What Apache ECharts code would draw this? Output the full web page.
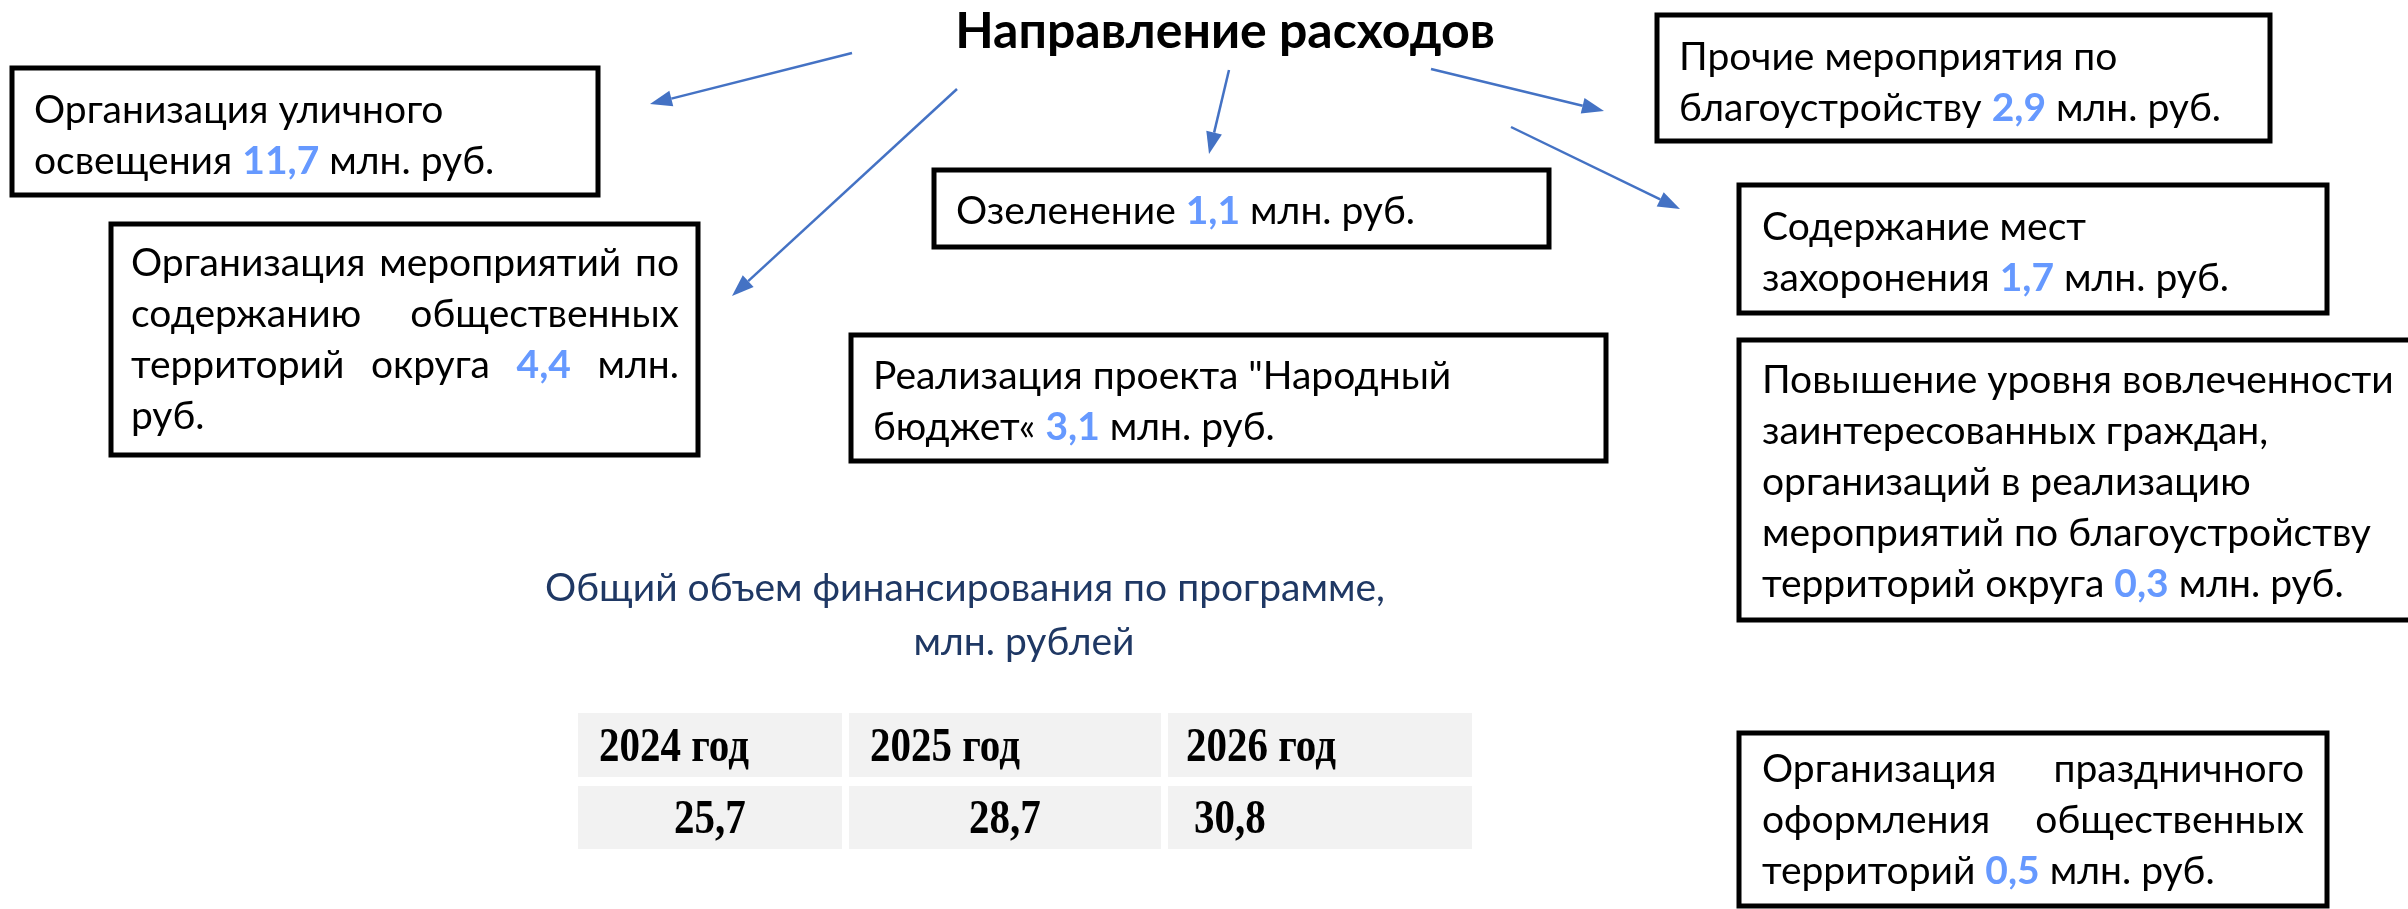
<!DOCTYPE html>
<html>
<head>
<meta charset="utf-8">
<script src="https://cdn.jsdelivr.net/npm/echarts@6/dist/echarts.min.js"></script>
<style>
  html, body { margin: 0; padding: 0; background: #fff; }
  #box-view { width: 2408px; height: 909px; }
</style>
</head>
<body>
<div id="box-view"></div>
<script>
// данные
const title = 'Направление расходов';
const itemTexts = [
  'Организация уличного\nосвещения {v} млн. руб.',
  'Организация мероприятий по\nсодержанию общественных\nтерриторий округа {v} млн.\nруб.',
  'Озеленение {v} млн. руб.',
  'Реализация проекта "Народный\nбюджет« {v} млн. руб.',
  'Прочие мероприятия по\nблагоустройству {v} млн. руб.',
  'Содержание мест\nзахоронения {v} млн. руб.',
  'Повышение уровня вовлеченности\nзаинтересованных граждан,\nорганизаций в реализацию\nмероприятий по благоустройству\nтерриторий округа {v} млн. руб.',
  'Организация праздничного\nоформления общественных\nтерриторий {v} млн. руб.'
];
const itemAmounts = [11.7, 4.4, 1.1, 3.1, 2.9, 1.7, 0.3, 0.5];
const subtitleLines = ['Общий объем финансирования по программе,', 'млн. рублей'];
const years = ['2024 год', '2025 год', '2026 год'];
const totals = [25.7, 28.7, 30.8];

// раскладка
const boxes = [
  {x: 12, y: 68, w: 586, h: 127, tx: 34, ty: 110},
  {x: 111, y: 224, w: 587, h: 231, tx: 131, ty: 263, right: 679},
  {x: 934, y: 170, w: 615, h: 77, tx: 956, ty: 211},
  {x: 851, y: 335, w: 755, h: 126, tx: 873, ty: 376},
  {x: 1657, y: 15, w: 613, h: 126, tx: 1679, ty: 57},
  {x: 1739, y: 185, w: 588, h: 128, tx: 1762, ty: 227},
  {x: 1739, y: 340, w: 700, h: 280, tx: 1762, ty: 380},
  {x: 1739, y: 733, w: 588, h: 173, tx: 1762, ty: 769, right: 2304}
];
const lineGap = 51;
const arrows = [
  [852, 53, 650, 104],
  [957, 89, 732, 296],
  [1229, 70, 1209, 154],
  [1431, 69, 1604, 111],
  [1511, 127, 1680, 209]
];
const tableCols = [[578, 267], [849, 315], [1168, 307]];
const tableRows = [[713, 64], [786, 63]];
const headX = [599, 870, 1186];
const valX = [674, 969, 1194];

const FONT = 'Lato, "Noto Sans", sans-serif';
const SIZE = 39;
const NUM_COLOR = '#6699ff';

const ctx = document.createElement('canvas').getContext('2d');
function tw(s, bold) {
  ctx.font = (bold ? 'bold ' : '') + SIZE + 'px ' + FONT;
  return ctx.measureText(s).width;
}
function fmt(v) { return String(v).replace('.', ','); }

let elements = [];

// рамки и тексты
boxes.forEach(function (b, i) {
  elements.push({
    type: 'rect',
    shape: {x: b.x, y: b.y, width: b.w, height: b.h},
    style: {fill: '#fff', stroke: '#000', lineWidth: 5}
  });
  let lines = itemTexts[i].split('\n');
  lines.forEach(function (line, li) {
    let words = line.split(' ').map(function (w) {
      let isNum = w === '{v}';
      let t = isNum ? fmt(itemAmounts[i]) : w;
      return {t: t, num: isNum, w: tw(t, isNum)};
    });
    let gap = tw(' ');
    if (b.right && li < lines.length - 1 && words.length > 1) {
      let sum = words.reduce(function (a, o) { return a + o.w; }, 0);
      gap = (b.right - b.tx - sum) / (words.length - 1);
    }
    let x = b.tx;
    words.forEach(function (o) {
      elements.push({
        type: 'text',
        style: {
          text: o.t, x: x, y: b.ty + li * lineGap,
          fill: o.num ? NUM_COLOR : '#000',
          fontSize: SIZE, fontFamily: FONT, fontWeight: o.num ? 'bold' : 'normal',
          textVerticalAlign: 'middle'
        }
      });
      x += o.w + gap;
    });
  });
});

// стрелки
arrows.forEach(function (a) {
  let dx = a[2] - a[0], dy = a[3] - a[1];
  let len = Math.sqrt(dx * dx + dy * dy);
  let ux = dx / len, uy = dy / len;
  let hl = 22, hw = 8;
  let bx = a[2] - ux * hl, by = a[3] - uy * hl;
  elements.push({
    type: 'line',
    shape: {x1: a[0], y1: a[1], x2: bx, y2: by},
    style: {stroke: '#4472C4', lineWidth: 2.5}
  });
  elements.push({
    type: 'polygon',
    shape: {points: [[a[2], a[3]], [bx - uy * hw, by + ux * hw], [bx + uy * hw, by - ux * hw]]},
    style: {fill: '#4472C4'}
  });
});

// заголовок
elements.push({
  type: 'text',
  style: {
    text: title, x: 1225, y: 32, fill: '#000',
    fontSize: 50, fontWeight: 'bold', fontFamily: FONT,
    textAlign: 'center', textVerticalAlign: 'middle'
  }
});

// подзаголовок
[[965, 588], [1024, 642]].forEach(function (p, i) {
  elements.push({
    type: 'text',
    style: {
      text: subtitleLines[i], x: p[0], y: p[1], fill: '#1F3864',
      fontSize: 39, fontFamily: FONT,
      textAlign: 'center', textVerticalAlign: 'middle'
    }
  });
});

// таблица
tableRows.forEach(function (r, ri) {
  tableCols.forEach(function (c, ci) {
    elements.push({
      type: 'rect',
      shape: {x: c[0], y: r[0], width: c[1] - 3, height: r[1]},
      style: {fill: '#F2F2F2'}
    });
    elements.push({
      type: 'text',
      x: ri === 0 ? headX[ci] : valX[ci],
      y: r[0] + r[1] / 2 + 3,
      scaleY: 1.2,
      style: {
        text: ri === 0 ? years[ci] : fmt(totals[ci]),
        x: 0, y: 0,
        fill: '#000', fontSize: 41, fontWeight: 'bold',
        fontFamily: '"Liberation Serif", "Times New Roman", serif',
        textVerticalAlign: 'middle'
      }
    });
  });
});

let option = {
  animation: false,
  graphic: {elements: elements}
};

let chart = echarts.init(document.getElementById('box-view'));
chart.setOption(option);
</script>
</body>
</html>
